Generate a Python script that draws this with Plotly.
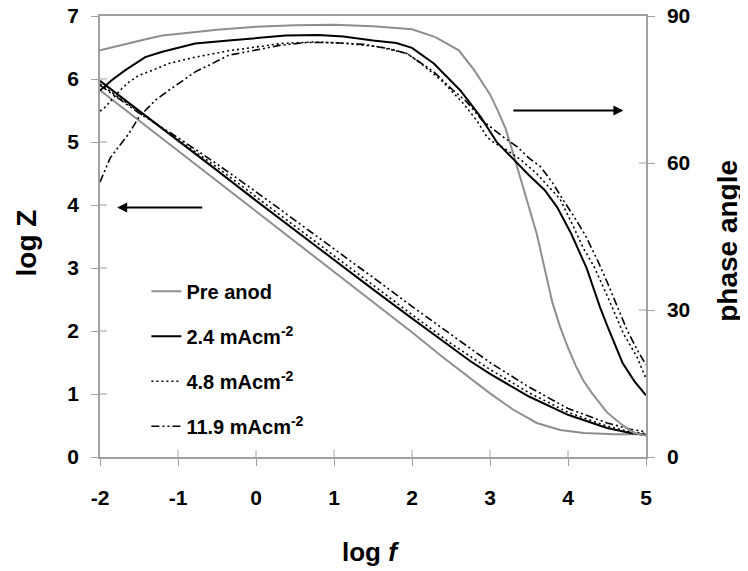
import plotly.graph_objects as go

# ---------------- data ----------------
pre_f_z = [-2, -1.5, -1, -0.5, 0, 0.5, 1, 1.5, 2, 2.4, 2.7, 3.0, 3.3, 3.6, 3.9, 4.2, 4.6, 5.0]
pre_z = [5.82, 5.34, 4.86, 4.39, 3.91, 3.43, 2.95, 2.47, 1.98, 1.58, 1.29, 1.01, 0.75, 0.54, 0.43, 0.38, 0.36, 0.36]
pre_f_p = [-2, -1.8, -1.6, -1.4, -1.2, -1, -0.8, -0.5, -0.2, 0, 0.5, 1, 1.5, 2, 2.3, 2.6, 2.8, 3.0,
           3.1, 3.2, 3.3, 3.4, 3.5, 3.6, 3.7, 3.8, 3.9, 4.0, 4.1, 4.2, 4.3, 4.5, 4.7, 4.85, 5.0]
pre_p = [83.0, 83.8, 84.5, 85.3, 86.0, 86.4, 86.7, 87.2, 87.6, 87.8, 88.1, 88.2, 87.9, 87.3, 85.7, 83.0,
         78.9, 74.0, 70.7, 67.0, 61.8, 56.5, 51.0, 45.5, 38.5, 31.5, 26.5, 22.3, 18.6, 15.5, 13.2, 9.1,
         6.5, 4.9, 4.4]

f_z = [-2, -1.5, -1, -0.5, 0, 0.5, 1, 1.5, 2, 2.5, 2.75, 3, 3.5, 4, 4.5, 4.8, 5]
a24_z = [5.97, 5.50, 5.02, 4.55, 4.07, 3.60, 3.12, 2.66, 2.20, 1.74, 1.52, 1.32, 0.96, 0.67, 0.46, 0.38, 0.35]
a48_z = [5.92, 5.48, 5.05, 4.60, 4.13, 3.66, 3.19, 2.72, 2.26, 1.80, 1.59, 1.39, 1.02, 0.71, 0.49, 0.40, 0.37]
a119_z = [5.90, 5.46, 5.07, 4.65, 4.21, 3.76, 3.30, 2.85, 2.39, 1.94, 1.72, 1.50, 1.11, 0.77, 0.54, 0.44, 0.40]

a24_f_p = [-2, -1.85, -1.68, -1.42, -1.2, -0.78, -0.35, 0, 0.38, 0.8, 1.12, 1.5, 1.8, 2.0, 2.28, 2.62,
           2.88, 3.09, 3.35, 3.5, 3.7, 3.86, 4.04, 4.24, 4.41, 4.51, 4.7, 4.85, 5.0]
a24_p = [74.8, 76.9, 78.9, 81.6, 82.7, 84.4, 85.0, 85.5, 86.0, 86.1, 85.8, 85.0, 84.5, 83.5, 80.3, 74.8,
         69.4, 64.2, 60.0, 57.5, 54.5, 51.0, 45.6, 38.5, 30.6, 26.5, 19.2, 15.5, 12.6]

a48_f_p = [-2, -1.95, -1.72, -1.63, -1.5, -1.33, -1.12, -0.78, -0.35, 0.08, 0.33, 0.74, 1.17, 1.59, 1.94,
           2.15, 2.4, 2.66, 2.83, 2.96, 3.05, 3.2, 3.4, 3.6, 3.75, 3.9, 4.07, 4.2, 4.33, 4.42, 4.5, 4.71,
           4.885, 5.0]
a48_p = [70.6, 71.1, 75.2, 76.5, 77.9, 78.9, 80.3, 81.6, 82.9, 83.8, 84.4, 84.7, 84.4, 83.7, 82.3,
         79.9, 76.5, 72.1, 68.7, 65.3, 64.2, 62.8, 60.6, 57.8, 55.1, 52.6, 47.0, 42.5, 39.0, 36.0, 33.0,
         25.2, 20.4, 16.0]

a119_f_p = [-2, -1.87, -1.8, -1.63, -1.5, -1.29, -1.12, -0.78, -0.56, -0.35, 0.08, 0.3, 0.65, 0.95, 1.38,
            1.72, 1.94, 2.28, 2.53, 2.7, 2.9, 3.17, 3.35, 3.5, 3.65, 3.8, 3.94, 4.08, 4.22, 4.38, 4.51,
            4.6, 4.76, 4.9, 5.0]
a119_p = [56.1, 61.0, 62.5, 66.0, 69.4, 72.8, 74.8, 78.6, 80.3, 82.0, 83.3, 84.0, 84.6, 84.6, 84.2,
          83.3, 82.3, 78.6, 74.8, 72.5, 68.7, 65.3, 63.3, 61.0, 59.2, 56.0, 52.4, 49.0, 45.3, 40.1, 35.4,
          32.0, 25.8, 21.5, 18.8]

series_names = ["Pre anod", "2.4 mAcm<sup>-2</sup>", "4.8 mAcm<sup>-2</sup>", "11.9 mAcm<sup>-2</sup>"]
x_ticks = [-2, -1, 0, 1, 2, 3, 4, 5]
x_ticktext = ["-2", "-1", "0", "1", "2", "3", "4", "5"]
y_ticks = [0, 1, 2, 3, 4, 5, 6, 7]
y2_ticks = [0, 30, 60, 90]

# ---------------- styles ----------------
GRAY = "#8e8e8e"
AXIS = "#a0a0a0"
FONT = "Liberation Sans, Arial, sans-serif"
styles = [
    dict(color=GRAY, width=2, dash="solid"),
    dict(color="black", width=2, dash="solid"),
    dict(color="black", width=1.6, dash="2px,3px"),
    dict(color="black", width=1.6, dash="8px,3px,2px,3px,2px,3px"),
]

fig = go.Figure()
z_sets = [(pre_f_z, pre_z), (f_z, a24_z), (f_z, a48_z), (f_z, a119_z)]
p_sets = [(pre_f_p, pre_p), (a24_f_p, a24_p), (a48_f_p, a48_p), (a119_f_p, a119_p)]
for i, name in enumerate(series_names):
    fig.add_trace(go.Scatter(x=z_sets[i][0], y=z_sets[i][1], mode="lines", name=name,
                             line=styles[i], legendgroup=f"g{i}", showlegend=True, yaxis="y"))
    fig.add_trace(go.Scatter(x=p_sets[i][0], y=p_sets[i][1], mode="lines", name=name,
                             line=styles[i], legendgroup=f"g{i}", showlegend=False, yaxis="y2"))

tickfont = dict(family=FONT, size=21, color="black", weight="bold")
axis_common = dict(ticks="outside", ticklen=7, tickcolor=AXIS, tickwidth=1, showline=True,
                   linecolor=AXIS, linewidth=1.5, showgrid=False, zeroline=False, tickfont=tickfont,
                   automargin=False, ticklabeloverflow="allow")
fig.update_layout(
    width=740, height=563,
    margin=dict(l=92, r=102, t=8, b=114, autoexpand=False),
    paper_bgcolor="white", plot_bgcolor="white",
    font=dict(family=FONT, color="black"),
    xaxis=dict(range=[-2, 5], tickvals=x_ticks, ticktext=x_ticktext, mirror=True,
               ticklabelstandoff=14, **axis_common),
    yaxis=dict(range=[0, 7], tickvals=y_ticks, ticklabelstandoff=8, **axis_common),
    yaxis2=dict(range=[0, 90], tickvals=y2_ticks, overlaying="y", side="right", anchor="x",
                ticklabelstandoff=8, **axis_common),
    legend=dict(x=0.085, y=0.42, xanchor="left", yanchor="top", bgcolor="rgba(0,0,0,0)",
                font=dict(family=FONT, size=20, color="black", weight="bold"),
                tracegroupgap=16, itemwidth=30),
    showlegend=True,
)

# inward halves of the crossing tick marks
shapes = []
for t in x_ticks[1:-1]:
    shapes.append(dict(type="line", xref="x", yref="y", x0=t, x1=t, ysizemode="pixel",
                       yanchor=0, y0=0, y1=7, line=dict(color=AXIS, width=1)))
for t in y_ticks[1:-1]:
    shapes.append(dict(type="line", xref="x", yref="y", y0=t, y1=t, xsizemode="pixel",
                       xanchor=-2, x0=0, x1=7, line=dict(color=AXIS, width=1)))
for t in y2_ticks[1:-1]:
    shapes.append(dict(type="line", xref="x", yref="y2", y0=t, y1=t, xsizemode="pixel",
                       xanchor=5, x0=-7, x1=0, line=dict(color=AXIS, width=1)))
fig.update_layout(shapes=shapes)

vfont = dict(family=FONT, size=28, color="black", weight="bold")
hfont = dict(family=FONT, size=26, color="black", weight="bold")
fig.add_annotation(text="log Z", xref="paper", yref="paper", x=-0.135, y=0.485, showarrow=False,
                   textangle=-90, font=vfont, xanchor="center", yanchor="middle")
fig.add_annotation(text="phase angle", xref="paper", yref="paper", x=1.15, y=0.49, showarrow=False,
                   textangle=-90, font=vfont, xanchor="center", yanchor="middle")
fig.add_annotation(text="log <i>f</i>", xref="paper", yref="paper", x=0.495, y=-0.215,
                   showarrow=False, font=hfont, xanchor="center", yanchor="middle")

# arrows pointing to each axis
fig.add_annotation(x=-1.78, y=3.96, ax=-0.67, ay=3.96, xref="x", yref="y", axref="x", ayref="y",
                   text="", showarrow=True, arrowhead=2, arrowsize=1, arrowwidth=2, arrowcolor="black")
fig.add_annotation(x=4.71, y=5.50, ax=3.28, ay=5.50, xref="x", yref="y", axref="x", ayref="y",
                   text="", showarrow=True, arrowhead=2, arrowsize=1, arrowwidth=2, arrowcolor="black")

fig.write_html("out.html")
